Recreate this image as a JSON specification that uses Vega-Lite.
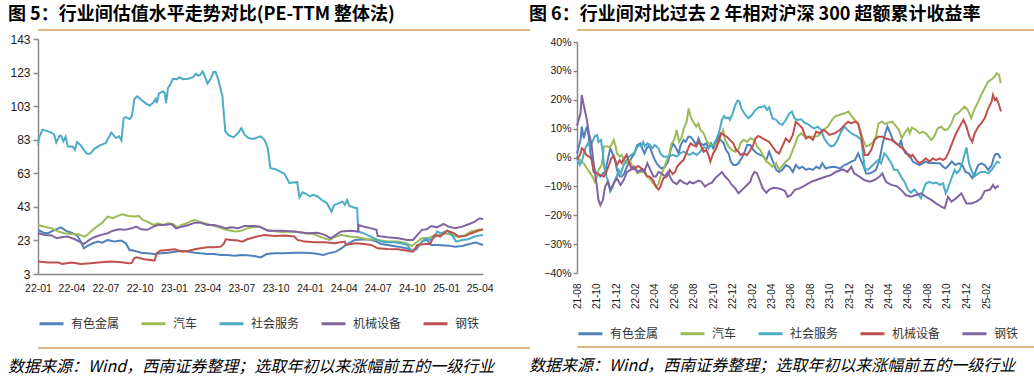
{
"$schema": "https://vega.github.io/schema/vega-lite/v6.json",
"background": "white",
"padding": {"left": 8, "top": 6, "right": 4, "bottom": 8},
"config": {
 "view": {"stroke": null},
 "axis": {"grid": false, "title": null, "domainColor": "#898989", "tickColor": "#898989", "labelColor": "#1a1a1a", "labelFont": "Liberation Sans", "domainWidth": 1.5, "tickWidth": 1.5},
 "legend": {"orient": "bottom", "direction": "horizontal", "symbolType": "stroke", "symbolSize": 576, "symbolStrokeWidth": 3, "labelFont": "Noto Sans CJK SC", "labelFontSize": 12, "labelColor": "#333333", "labelOffset": 6, "columnPadding": 15}
},
"datasets": {
 "pe_metal": [{"d":"2022-01-01","v":29.3},{"d":"2022-01-16","v":27.6},{"d":"2022-01-28","v":27.3},{"d":"2022-02-11","v":28.8},{"d":"2022-02-25","v":30.2},{"d":"2022-03-04","v":30.8},{"d":"2022-03-13","v":29.3},{"d":"2022-03-22","v":28.3},{"d":"2022-04-04","v":27.3},{"d":"2022-04-17","v":25.7},{"d":"2022-04-26","v":22.3},{"d":"2022-05-04","v":18.3},{"d":"2022-05-14","v":19.7},{"d":"2022-05-28","v":21.3},{"d":"2022-06-10","v":22.3},{"d":"2022-06-23","v":21.7},{"d":"2022-07-07","v":23.3},{"d":"2022-07-25","v":22.3},{"d":"2022-08-13","v":22.9},{"d":"2022-08-25","v":21.3},{"d":"2022-09-04","v":17.3},{"d":"2022-09-17","v":16.9},{"d":"2022-10-05","v":15.7},{"d":"2022-10-22","v":15.3},{"d":"2022-11-10","v":14.9},{"d":"2022-11-28","v":15.3},{"d":"2022-12-16","v":15.7},{"d":"2023-01-04","v":16.3},{"d":"2023-01-22","v":16.9},{"d":"2023-02-10","v":16.3},{"d":"2023-02-26","v":15.7},{"d":"2023-03-13","v":15.3},{"d":"2023-04-01","v":14.9},{"d":"2023-04-19","v":14.9},{"d":"2023-05-07","v":14.3},{"d":"2023-05-25","v":14.3},{"d":"2023-06-13","v":13.9},{"d":"2023-07-01","v":14.3},{"d":"2023-07-17","v":14.1},{"d":"2023-08-05","v":13.7},{"d":"2023-08-22","v":12.9},{"d":"2023-09-07","v":14.9},{"d":"2023-09-28","v":15.3},{"d":"2023-10-25","v":15.3},{"d":"2023-11-20","v":15.7},{"d":"2023-12-19","v":15.7},{"d":"2024-01-10","v":15.3},{"d":"2024-02-07","v":14.3},{"d":"2024-02-19","v":15.3},{"d":"2024-03-11","v":16.3},{"d":"2024-03-26","v":18.3},{"d":"2024-04-07","v":20.3},{"d":"2024-05-01","v":23.3},{"d":"2024-05-26","v":23.7},{"d":"2024-06-14","v":23.3},{"d":"2024-06-28","v":22.3},{"d":"2024-07-10","v":20.9},{"d":"2024-07-28","v":20.3},{"d":"2024-08-25","v":19.3},{"d":"2024-09-16","v":18.3},{"d":"2024-10-01","v":17.3},{"d":"2024-10-13","v":17.7},{"d":"2024-10-28","v":22.3},{"d":"2024-11-10","v":23.3},{"d":"2024-11-22","v":20.3},{"d":"2024-12-10","v":20.3},{"d":"2025-01-07","v":19.9},{"d":"2025-01-25","v":19.3},{"d":"2025-02-13","v":19.7},{"d":"2025-03-04","v":20.9},{"d":"2025-03-22","v":21.7},{"d":"2025-04-10","v":20.3}],
 "pe_auto": [{"d":"2022-01-01","v":32.2},{"d":"2022-01-19","v":31.2},{"d":"2022-02-07","v":30.2},{"d":"2022-02-25","v":28.3},{"d":"2022-03-13","v":27.3},{"d":"2022-04-01","v":26.9},{"d":"2022-04-19","v":26.7},{"d":"2022-05-06","v":25.3},{"d":"2022-05-13","v":26.3},{"d":"2022-05-28","v":29.3},{"d":"2022-06-10","v":31.6},{"d":"2022-06-23","v":33.6},{"d":"2022-07-07","v":37.2},{"d":"2022-07-21","v":36.2},{"d":"2022-08-04","v":37.6},{"d":"2022-08-15","v":38.6},{"d":"2022-09-01","v":37.6},{"d":"2022-09-17","v":37.2},{"d":"2022-09-28","v":37.6},{"d":"2022-10-10","v":35.2},{"d":"2022-10-22","v":34.2},{"d":"2022-11-07","v":32.2},{"d":"2022-11-19","v":33.2},{"d":"2022-12-03","v":32.2},{"d":"2022-12-16","v":33.2},{"d":"2022-12-29","v":32.8},{"d":"2023-01-10","v":30.8},{"d":"2023-01-22","v":32.2},{"d":"2023-02-04","v":33.2},{"d":"2023-02-17","v":34.6},{"d":"2023-02-26","v":35.2},{"d":"2023-03-10","v":34.2},{"d":"2023-03-24","v":33.2},{"d":"2023-04-10","v":32.2},{"d":"2023-04-28","v":31.2},{"d":"2023-05-16","v":29.6},{"d":"2023-06-04","v":28.8},{"d":"2023-06-16","v":28.3},{"d":"2023-07-01","v":28.8},{"d":"2023-07-17","v":30.2},{"d":"2023-08-05","v":31.2},{"d":"2023-08-19","v":31.2},{"d":"2023-09-10","v":29.0},{"d":"2023-10-16","v":28.0},{"d":"2023-11-20","v":28.3},{"d":"2023-12-19","v":27.3},{"d":"2024-01-10","v":26.9},{"d":"2024-02-01","v":24.9},{"d":"2024-02-23","v":23.3},{"d":"2024-03-07","v":24.9},{"d":"2024-03-25","v":26.3},{"d":"2024-04-16","v":25.3},{"d":"2024-05-10","v":24.9},{"d":"2024-06-04","v":23.7},{"d":"2024-07-01","v":23.3},{"d":"2024-07-28","v":22.3},{"d":"2024-08-25","v":22.3},{"d":"2024-09-16","v":21.3},{"d":"2024-10-01","v":19.7},{"d":"2024-10-10","v":21.3},{"d":"2024-10-28","v":24.3},{"d":"2024-11-13","v":24.3},{"d":"2024-11-28","v":25.7},{"d":"2024-12-10","v":26.3},{"d":"2024-12-28","v":27.3},{"d":"2025-01-16","v":26.3},{"d":"2025-02-04","v":24.9},{"d":"2025-02-22","v":26.3},{"d":"2025-03-10","v":28.3},{"d":"2025-03-28","v":29.3},{"d":"2025-04-10","v":29.6}],
 "pe_service": [{"d":"2022-01-01","v":79.9},{"d":"2022-01-04","v":84.3},{"d":"2022-01-13","v":89.0},{"d":"2022-02-03","v":87.5},{"d":"2022-02-13","v":86.3},{"d":"2022-02-19","v":81.4},{"d":"2022-02-28","v":85.3},{"d":"2022-03-04","v":85.3},{"d":"2022-03-10","v":82.0},{"d":"2022-03-16","v":84.7},{"d":"2022-03-22","v":79.0},{"d":"2022-04-04","v":79.0},{"d":"2022-04-10","v":77.0},{"d":"2022-04-16","v":81.6},{"d":"2022-04-26","v":79.6},{"d":"2022-05-06","v":76.4},{"d":"2022-05-12","v":74.8},{"d":"2022-05-21","v":74.6},{"d":"2022-06-01","v":77.6},{"d":"2022-06-16","v":79.6},{"d":"2022-07-02","v":81.0},{"d":"2022-07-14","v":86.0},{"d":"2022-07-17","v":87.3},{"d":"2022-07-29","v":84.0},{"d":"2022-08-07","v":85.0},{"d":"2022-08-13","v":82.6},{"d":"2022-08-19","v":95.9},{"d":"2022-08-25","v":96.5},{"d":"2022-09-04","v":95.3},{"d":"2022-09-10","v":96.9},{"d":"2022-09-17","v":107.4},{"d":"2022-09-25","v":108.8},{"d":"2022-10-05","v":106.8},{"d":"2022-10-19","v":104.4},{"d":"2022-10-28","v":103.4},{"d":"2022-11-07","v":105.2},{"d":"2022-11-13","v":107.4},{"d":"2022-11-16","v":104.8},{"d":"2022-11-22","v":110.6},{"d":"2022-12-03","v":111.8},{"d":"2022-12-07","v":110.8},{"d":"2022-12-11","v":104.8},{"d":"2022-12-16","v":113.8},{"d":"2022-12-22","v":115.8},{"d":"2022-12-29","v":119.3},{"d":"2023-01-09","v":119.1},{"d":"2023-01-16","v":120.3},{"d":"2023-01-25","v":119.1},{"d":"2023-02-09","v":119.3},{"d":"2023-02-21","v":120.3},{"d":"2023-03-01","v":122.3},{"d":"2023-03-07","v":121.1},{"d":"2023-03-13","v":121.7},{"d":"2023-03-19","v":123.7},{"d":"2023-03-25","v":120.7},{"d":"2023-04-01","v":116.4},{"d":"2023-04-10","v":119.3},{"d":"2023-04-17","v":123.3},{"d":"2023-04-23","v":123.3},{"d":"2023-04-29","v":119.7},{"d":"2023-05-07","v":112.8},{"d":"2023-05-11","v":109.2},{"d":"2023-05-19","v":87.9},{"d":"2023-05-29","v":85.5},{"d":"2023-06-10","v":84.4},{"d":"2023-06-22","v":86.9},{"d":"2023-07-01","v":89.9},{"d":"2023-07-10","v":86.0},{"d":"2023-07-20","v":84.0},{"d":"2023-08-01","v":83.4},{"d":"2023-08-14","v":84.4},{"d":"2023-08-22","v":85.0},{"d":"2023-09-01","v":83.0},{"d":"2023-09-10","v":78.0},{"d":"2023-09-17","v":66.0},{"d":"2023-10-01","v":65.5},{"d":"2023-10-16","v":63.7},{"d":"2023-10-25","v":62.7},{"d":"2023-11-07","v":57.1},{"d":"2023-11-16","v":57.5},{"d":"2023-11-28","v":57.7},{"d":"2023-12-04","v":48.6},{"d":"2023-12-13","v":51.7},{"d":"2023-12-22","v":50.8},{"d":"2024-01-01","v":49.2},{"d":"2024-01-10","v":50.2},{"d":"2024-01-22","v":49.2},{"d":"2024-02-01","v":47.2},{"d":"2024-02-16","v":45.2},{"d":"2024-02-28","v":40.2},{"d":"2024-03-07","v":44.2},{"d":"2024-03-16","v":44.8},{"d":"2024-03-28","v":46.2},{"d":"2024-04-04","v":44.2},{"d":"2024-04-10","v":47.2},{"d":"2024-04-16","v":43.6},{"d":"2024-04-28","v":42.6},{"d":"2024-05-07","v":42.2},{"d":"2024-05-10","v":28.3},{"d":"2024-05-25","v":27.2},{"d":"2024-06-13","v":25.3},{"d":"2024-07-01","v":23.3},{"d":"2024-07-19","v":21.9},{"d":"2024-08-13","v":21.9},{"d":"2024-09-01","v":21.3},{"d":"2024-09-19","v":20.3},{"d":"2024-09-28","v":17.3},{"d":"2024-10-07","v":17.5},{"d":"2024-10-25","v":21.3},{"d":"2024-11-07","v":24.3},{"d":"2024-11-19","v":23.3},{"d":"2024-12-04","v":25.3},{"d":"2024-12-07","v":28.3},{"d":"2024-12-19","v":27.3},{"d":"2025-01-04","v":28.8},{"d":"2025-01-16","v":26.3},{"d":"2025-01-28","v":22.3},{"d":"2025-02-13","v":23.3},{"d":"2025-03-01","v":23.7},{"d":"2025-03-19","v":25.3},{"d":"2025-04-10","v":26.3}],
 "pe_machine": [{"d":"2022-01-01","v":27.3},{"d":"2022-01-19","v":26.3},{"d":"2022-02-07","v":26.0},{"d":"2022-02-20","v":24.3},{"d":"2022-03-04","v":24.9},{"d":"2022-03-22","v":25.3},{"d":"2022-04-10","v":23.7},{"d":"2022-04-22","v":22.3},{"d":"2022-05-04","v":20.9},{"d":"2022-05-19","v":23.3},{"d":"2022-06-01","v":24.9},{"d":"2022-06-19","v":26.3},{"d":"2022-07-07","v":27.3},{"d":"2022-07-21","v":28.8},{"d":"2022-08-07","v":29.6},{"d":"2022-08-22","v":29.3},{"d":"2022-09-09","v":30.2},{"d":"2022-09-22","v":31.2},{"d":"2022-10-05","v":29.6},{"d":"2022-10-22","v":29.3},{"d":"2022-11-07","v":31.2},{"d":"2022-11-19","v":32.2},{"d":"2022-12-07","v":32.2},{"d":"2022-12-25","v":32.8},{"d":"2023-01-07","v":30.2},{"d":"2023-01-22","v":31.2},{"d":"2023-02-10","v":32.2},{"d":"2023-02-26","v":33.6},{"d":"2023-03-13","v":33.6},{"d":"2023-04-01","v":32.2},{"d":"2023-04-19","v":32.2},{"d":"2023-05-07","v":31.2},{"d":"2023-05-21","v":30.2},{"d":"2023-06-04","v":30.8},{"d":"2023-06-22","v":30.2},{"d":"2023-07-09","v":31.6},{"d":"2023-07-27","v":31.6},{"d":"2023-08-05","v":31.6},{"d":"2023-08-19","v":31.2},{"d":"2023-09-10","v":28.8},{"d":"2023-10-16","v":28.8},{"d":"2023-11-20","v":28.3},{"d":"2023-12-26","v":27.3},{"d":"2024-01-22","v":27.6},{"d":"2024-02-10","v":26.3},{"d":"2024-02-26","v":24.3},{"d":"2024-03-11","v":26.3},{"d":"2024-03-25","v":28.3},{"d":"2024-04-19","v":28.8},{"d":"2024-05-10","v":28.3},{"d":"2024-05-11","v":32.2},{"d":"2024-05-26","v":31.2},{"d":"2024-06-14","v":30.2},{"d":"2024-06-28","v":29.3},{"d":"2024-07-01","v":25.7},{"d":"2024-07-28","v":24.9},{"d":"2024-08-25","v":24.3},{"d":"2024-09-19","v":23.3},{"d":"2024-10-04","v":23.3},{"d":"2024-10-16","v":26.3},{"d":"2024-10-28","v":29.3},{"d":"2024-11-10","v":29.6},{"d":"2024-11-22","v":31.6},{"d":"2024-12-07","v":30.8},{"d":"2024-12-25","v":32.8},{"d":"2025-01-07","v":31.2},{"d":"2025-01-25","v":30.2},{"d":"2025-02-13","v":31.2},{"d":"2025-03-04","v":32.8},{"d":"2025-03-19","v":34.2},{"d":"2025-04-01","v":36.2},{"d":"2025-04-10","v":35.6}],
 "pe_steel": [{"d":"2022-01-01","v":10.4},{"d":"2022-01-28","v":9.8},{"d":"2022-02-25","v":9.8},{"d":"2022-03-07","v":9.0},{"d":"2022-04-01","v":9.8},{"d":"2022-04-26","v":9.0},{"d":"2022-05-22","v":9.4},{"d":"2022-06-19","v":10.0},{"d":"2022-07-16","v":10.4},{"d":"2022-08-13","v":10.0},{"d":"2022-09-01","v":9.4},{"d":"2022-09-10","v":9.6},{"d":"2022-09-16","v":12.3},{"d":"2022-09-22","v":12.9},{"d":"2022-10-14","v":11.8},{"d":"2022-11-10","v":11.0},{"d":"2022-11-16","v":15.3},{"d":"2022-11-25","v":16.9},{"d":"2022-12-16","v":17.3},{"d":"2023-01-04","v":17.7},{"d":"2023-01-22","v":16.3},{"d":"2023-02-10","v":16.9},{"d":"2023-02-26","v":17.7},{"d":"2023-03-13","v":18.3},{"d":"2023-04-01","v":18.9},{"d":"2023-04-19","v":18.9},{"d":"2023-05-07","v":19.3},{"d":"2023-05-16","v":21.3},{"d":"2023-05-20","v":23.7},{"d":"2023-06-04","v":23.3},{"d":"2023-06-22","v":22.9},{"d":"2023-07-04","v":22.3},{"d":"2023-07-17","v":23.7},{"d":"2023-08-05","v":24.9},{"d":"2023-08-19","v":25.7},{"d":"2023-09-01","v":26.3},{"d":"2023-09-28","v":25.7},{"d":"2023-10-25","v":25.9},{"d":"2023-11-20","v":25.3},{"d":"2023-11-29","v":23.3},{"d":"2023-12-19","v":22.3},{"d":"2024-01-13","v":21.9},{"d":"2024-02-10","v":21.9},{"d":"2024-03-07","v":21.3},{"d":"2024-04-04","v":22.3},{"d":"2024-04-07","v":20.3},{"d":"2024-05-01","v":21.3},{"d":"2024-05-26","v":20.9},{"d":"2024-06-14","v":20.3},{"d":"2024-07-01","v":18.3},{"d":"2024-07-28","v":17.9},{"d":"2024-08-25","v":17.7},{"d":"2024-09-19","v":16.9},{"d":"2024-10-04","v":16.3},{"d":"2024-10-16","v":20.3},{"d":"2024-11-05","v":20.9},{"d":"2024-11-19","v":20.9},{"d":"2024-12-01","v":26.3},{"d":"2024-12-16","v":25.3},{"d":"2025-01-04","v":28.8},{"d":"2025-01-21","v":27.3},{"d":"2025-02-04","v":25.3},{"d":"2025-02-22","v":25.7},{"d":"2025-03-10","v":27.3},{"d":"2025-03-28","v":28.8},{"d":"2025-04-10","v":29.6}],
 "ex_metal": [{"d":"2021-08-01","v":1.4},{"d":"2021-08-12","v":6.1},{"d":"2021-08-16","v":10.7},{"d":"2021-08-22","v":6.6},{"d":"2021-08-27","v":8.9},{"d":"2021-09-01","v":10.7},{"d":"2021-09-07","v":7.2},{"d":"2021-09-12","v":1.4},{"d":"2021-09-21","v":-3.2},{"d":"2021-09-28","v":-5},{"d":"2021-10-04","v":-5.5},{"d":"2021-10-13","v":-6.6},{"d":"2021-10-21","v":-5.5},{"d":"2021-10-28","v":-5},{"d":"2021-11-05","v":-0.9},{"d":"2021-11-13","v":3.2},{"d":"2021-11-22","v":0.9},{"d":"2021-11-29","v":-1.4},{"d":"2021-12-04","v":-4.3},{"d":"2021-12-13","v":-6.6},{"d":"2021-12-19","v":-6.6},{"d":"2021-12-27","v":-5.5},{"d":"2022-01-04","v":-3.2},{"d":"2022-01-13","v":-1.4},{"d":"2022-01-21","v":0.3},{"d":"2022-01-28","v":1.4},{"d":"2022-02-05","v":4.3},{"d":"2022-02-15","v":4.9},{"d":"2022-02-21","v":3.2},{"d":"2022-02-28","v":1.4},{"d":"2022-03-07","v":3.2},{"d":"2022-03-15","v":4.3},{"d":"2022-03-22","v":2},{"d":"2022-03-30","v":-0.3},{"d":"2022-04-07","v":-2},{"d":"2022-04-16","v":-3.2},{"d":"2022-04-22","v":-3.8},{"d":"2022-05-03","v":-3.2},{"d":"2022-05-13","v":-1.4},{"d":"2022-05-21","v":2.6},{"d":"2022-05-28","v":4.9},{"d":"2022-06-07","v":3.2},{"d":"2022-06-15","v":1.4},{"d":"2022-06-21","v":4.3},{"d":"2022-06-30","v":6.1},{"d":"2022-07-07","v":5.4},{"d":"2022-07-15","v":7.2},{"d":"2022-07-22","v":7.2},{"d":"2022-07-30","v":6.1},{"d":"2022-08-09","v":4.3},{"d":"2022-08-16","v":6.6},{"d":"2022-08-22","v":4.9},{"d":"2022-09-01","v":4.3},{"d":"2022-09-09","v":4.9},{"d":"2022-09-16","v":3.2},{"d":"2022-09-24","v":4.9},{"d":"2022-10-01","v":3.2},{"d":"2022-10-10","v":4.9},{"d":"2022-10-18","v":7.2},{"d":"2022-10-24","v":6.1},{"d":"2022-11-03","v":4.9},{"d":"2022-11-10","v":2.6},{"d":"2022-11-18","v":1.4},{"d":"2022-11-25","v":-1.4},{"d":"2022-12-03","v":-2.6},{"d":"2022-12-12","v":-2.6},{"d":"2022-12-19","v":-2},{"d":"2022-12-25","v":-0.9},{"d":"2023-01-04","v":0.9},{"d":"2023-01-15","v":4.3},{"d":"2023-01-25","v":4.3},{"d":"2023-02-04","v":2.6},{"d":"2023-02-15","v":1.4},{"d":"2023-02-25","v":0.9},{"d":"2023-03-05","v":0.5},{"d":"2023-03-16","v":-0.9},{"d":"2023-03-25","v":2},{"d":"2023-04-04","v":-0.9},{"d":"2023-04-16","v":-4.3},{"d":"2023-04-25","v":-5},{"d":"2023-05-05","v":-4.3},{"d":"2023-05-16","v":-2.6},{"d":"2023-05-27","v":-3.2},{"d":"2023-06-07","v":-5},{"d":"2023-06-16","v":-2.6},{"d":"2023-06-27","v":-3.8},{"d":"2023-07-07","v":-3.2},{"d":"2023-07-18","v":-4.3},{"d":"2023-07-28","v":-3.8},{"d":"2023-08-09","v":-4.3},{"d":"2023-08-19","v":-3.2},{"d":"2023-08-30","v":-3.8},{"d":"2023-09-07","v":-2},{"d":"2023-09-18","v":-3.8},{"d":"2023-09-29","v":-3.4},{"d":"2023-10-16","v":-3.2},{"d":"2023-11-01","v":-3.8},{"d":"2023-11-16","v":-2.6},{"d":"2023-11-27","v":-2},{"d":"2023-12-07","v":-1.4},{"d":"2023-12-18","v":-0.9},{"d":"2023-12-28","v":1.4},{"d":"2024-01-01","v":0.3},{"d":"2024-01-13","v":-2.6},{"d":"2024-01-22","v":-5.5},{"d":"2024-02-02","v":-5.5},{"d":"2024-02-13","v":-5},{"d":"2024-02-22","v":-4.3},{"d":"2024-03-04","v":-0.9},{"d":"2024-03-13","v":4.3},{"d":"2024-03-22","v":8.4},{"d":"2024-03-29","v":10.7},{"d":"2024-04-07","v":8.4},{"d":"2024-04-15","v":6.1},{"d":"2024-04-25","v":4.9},{"d":"2024-05-06","v":4.3},{"d":"2024-05-10","v":6.1},{"d":"2024-05-16","v":3.2},{"d":"2024-05-25","v":1.4},{"d":"2024-06-06","v":0.9},{"d":"2024-06-16","v":-1.4},{"d":"2024-06-27","v":-2},{"d":"2024-07-07","v":-2.6},{"d":"2024-07-16","v":-2},{"d":"2024-07-27","v":-1.4},{"d":"2024-08-07","v":-2},{"d":"2024-08-18","v":-1.8},{"d":"2024-08-28","v":-2},{"d":"2024-09-09","v":-2},{"d":"2024-09-19","v":-3.2},{"d":"2024-09-27","v":-3.8},{"d":"2024-10-07","v":-2.6},{"d":"2024-10-16","v":-1.4},{"d":"2024-10-27","v":-2.6},{"d":"2024-11-07","v":-2},{"d":"2024-11-18","v":-2.6},{"d":"2024-11-28","v":-5},{"d":"2024-12-09","v":-5.5},{"d":"2024-12-19","v":-7.2},{"d":"2024-12-27","v":-5.5},{"d":"2025-01-07","v":-2.6},{"d":"2025-01-16","v":-2},{"d":"2025-01-27","v":-2.6},{"d":"2025-02-07","v":-4.3},{"d":"2025-02-18","v":-2.6},{"d":"2025-02-25","v":0.2},{"d":"2025-03-02","v":1.2},{"d":"2025-03-10","v":1.2},{"d":"2025-03-18","v":-0.3}],
 "ex_auto": [{"d":"2021-08-01","v":0},{"d":"2021-08-12","v":-1},{"d":"2021-08-22","v":-2},{"d":"2021-09-01","v":-3.8},{"d":"2021-09-12","v":-5.5},{"d":"2021-09-21","v":-7.2},{"d":"2021-09-25","v":-8.4},{"d":"2021-10-03","v":-6.6},{"d":"2021-10-07","v":-4.3},{"d":"2021-10-18","v":-2.4},{"d":"2021-10-24","v":3.8},{"d":"2021-11-04","v":3.8},{"d":"2021-11-12","v":3.5},{"d":"2021-11-19","v":4.9},{"d":"2021-11-24","v":6.1},{"d":"2021-11-30","v":3.8},{"d":"2021-12-04","v":1.4},{"d":"2021-12-13","v":0.3},{"d":"2021-12-19","v":0.9},{"d":"2021-12-27","v":-1.4},{"d":"2022-01-04","v":-2},{"d":"2022-01-13","v":-0.9},{"d":"2022-01-21","v":-3.2},{"d":"2022-02-01","v":-3.2},{"d":"2022-02-07","v":-5.5},{"d":"2022-02-16","v":-5},{"d":"2022-02-27","v":-5},{"d":"2022-03-07","v":-6.6},{"d":"2022-03-16","v":-7.2},{"d":"2022-03-27","v":-9},{"d":"2022-04-05","v":-10.1},{"d":"2022-04-13","v":-9.2},{"d":"2022-04-19","v":-6.6},{"d":"2022-04-28","v":-4.3},{"d":"2022-05-09","v":-0.9},{"d":"2022-05-16","v":0.9},{"d":"2022-05-24","v":4.9},{"d":"2022-06-01","v":6.1},{"d":"2022-06-09","v":9.5},{"d":"2022-06-16","v":5.4},{"d":"2022-06-25","v":7.2},{"d":"2022-07-01","v":10.1},{"d":"2022-07-10","v":12.4},{"d":"2022-07-16","v":17},{"d":"2022-07-22","v":14.2},{"d":"2022-07-30","v":12.4},{"d":"2022-08-09","v":10.7},{"d":"2022-08-16","v":11.8},{"d":"2022-08-22","v":9.5},{"d":"2022-09-01","v":8.4},{"d":"2022-09-09","v":6.1},{"d":"2022-09-16","v":4.9},{"d":"2022-09-27","v":4.3},{"d":"2022-10-07","v":4.3},{"d":"2022-10-18","v":5.4},{"d":"2022-10-24","v":7.4},{"d":"2022-11-01","v":9.5},{"d":"2022-11-07","v":6.1},{"d":"2022-11-18","v":3.8},{"d":"2022-11-28","v":2.6},{"d":"2022-12-09","v":2},{"d":"2022-12-19","v":2.9},{"d":"2022-12-25","v":4.9},{"d":"2023-01-04","v":6.1},{"d":"2023-01-15","v":5.4},{"d":"2023-01-25","v":6.6},{"d":"2023-02-07","v":6.1},{"d":"2023-02-15","v":3.8},{"d":"2023-02-25","v":2.6},{"d":"2023-03-05","v":0.9},{"d":"2023-03-16","v":-1.4},{"d":"2023-03-25","v":-2},{"d":"2023-04-04","v":-3.2},{"d":"2023-04-16","v":-2},{"d":"2023-04-25","v":-4.3},{"d":"2023-05-07","v":-2.6},{"d":"2023-05-16","v":-1.4},{"d":"2023-05-27","v":-0.4},{"d":"2023-06-01","v":0.9},{"d":"2023-06-13","v":4.3},{"d":"2023-06-22","v":7.2},{"d":"2023-07-03","v":8.4},{"d":"2023-07-13","v":7.4},{"d":"2023-07-24","v":7.2},{"d":"2023-08-09","v":7.2},{"d":"2023-08-24","v":7.4},{"d":"2023-09-10","v":9.5},{"d":"2023-09-25","v":10.7},{"d":"2023-10-04","v":12.4},{"d":"2023-10-16","v":14.2},{"d":"2023-11-01","v":14.8},{"d":"2023-11-16","v":15.3},{"d":"2023-11-28","v":15.9},{"d":"2023-12-07","v":14.4},{"d":"2023-12-18","v":13},{"d":"2023-12-28","v":11.8},{"d":"2024-01-13","v":6.1},{"d":"2024-01-22","v":3.8},{"d":"2024-02-02","v":4.3},{"d":"2024-02-13","v":5.4},{"d":"2024-02-22","v":7.2},{"d":"2024-03-01","v":11.8},{"d":"2024-03-12","v":12.4},{"d":"2024-03-22","v":11.6},{"d":"2024-04-01","v":12.1},{"d":"2024-04-13","v":12.4},{"d":"2024-04-22","v":11.2},{"d":"2024-05-04","v":9.5},{"d":"2024-05-13","v":6.6},{"d":"2024-05-21","v":8.4},{"d":"2024-06-01","v":10.1},{"d":"2024-06-07","v":8.4},{"d":"2024-06-13","v":10.4},{"d":"2024-06-27","v":9.5},{"d":"2024-07-07","v":8.4},{"d":"2024-07-16","v":8.9},{"d":"2024-07-27","v":8.4},{"d":"2024-08-13","v":6.1},{"d":"2024-08-22","v":7.2},{"d":"2024-09-02","v":10.1},{"d":"2024-09-13","v":10.7},{"d":"2024-09-24","v":9.5},{"d":"2024-10-04","v":9.8},{"d":"2024-10-15","v":11.8},{"d":"2024-10-25","v":14.8},{"d":"2024-11-04","v":15.3},{"d":"2024-11-15","v":16.5},{"d":"2024-11-25","v":17.6},{"d":"2024-12-05","v":16.5},{"d":"2024-12-16","v":13.6},{"d":"2024-12-25","v":16.5},{"d":"2025-01-07","v":19.4},{"d":"2025-01-16","v":21.7},{"d":"2025-01-27","v":24},{"d":"2025-02-07","v":26.3},{"d":"2025-02-18","v":27.1},{"d":"2025-02-28","v":28.1},{"d":"2025-03-05","v":29.2},{"d":"2025-03-13","v":28.6},{"d":"2025-03-18","v":25.7}],
 "ex_service": [{"d":"2021-08-01","v":0.5},{"d":"2021-08-04","v":-0.9},{"d":"2021-08-10","v":-2.6},{"d":"2021-08-16","v":-1.4},{"d":"2021-08-27","v":3.2},{"d":"2021-09-04","v":4.9},{"d":"2021-09-10","v":3.8},{"d":"2021-09-18","v":5.4},{"d":"2021-09-25","v":7.2},{"d":"2021-10-03","v":7.8},{"d":"2021-10-07","v":5.4},{"d":"2021-10-15","v":6.1},{"d":"2021-10-21","v":1.4},{"d":"2021-10-25","v":-3.2},{"d":"2021-11-01","v":-6.6},{"d":"2021-11-09","v":-9},{"d":"2021-11-13","v":-11.8},{"d":"2021-11-19","v":-10.7},{"d":"2021-11-27","v":-7.8},{"d":"2021-12-03","v":-6.6},{"d":"2021-12-09","v":-4.3},{"d":"2021-12-16","v":-5.5},{"d":"2021-12-25","v":-2.6},{"d":"2022-01-03","v":-0.9},{"d":"2022-01-10","v":0.3},{"d":"2022-01-25","v":1.4},{"d":"2022-02-04","v":3.2},{"d":"2022-02-10","v":4.3},{"d":"2022-02-18","v":3.8},{"d":"2022-02-24","v":5.4},{"d":"2022-03-01","v":3.8},{"d":"2022-03-09","v":4.9},{"d":"2022-03-16","v":4.3},{"d":"2022-03-25","v":3.2},{"d":"2022-04-01","v":4.3},{"d":"2022-04-13","v":3.2},{"d":"2022-04-19","v":1.4},{"d":"2022-04-28","v":0.3},{"d":"2022-05-09","v":0.3},{"d":"2022-05-19","v":0.5},{"d":"2022-05-28","v":0.9},{"d":"2022-06-09","v":0.3},{"d":"2022-06-19","v":1.4},{"d":"2022-06-30","v":2},{"d":"2022-07-10","v":1.4},{"d":"2022-07-19","v":0.9},{"d":"2022-07-30","v":1.7},{"d":"2022-08-10","v":0.9},{"d":"2022-08-21","v":2},{"d":"2022-09-01","v":3.5},{"d":"2022-09-12","v":3.2},{"d":"2022-09-22","v":3.8},{"d":"2022-10-01","v":4.3},{"d":"2022-10-12","v":6.6},{"d":"2022-10-21","v":9.5},{"d":"2022-10-28","v":13},{"d":"2022-11-04","v":14.4},{"d":"2022-11-10","v":13.6},{"d":"2022-11-18","v":13.9},{"d":"2022-11-22","v":13},{"d":"2022-12-01","v":15.3},{"d":"2022-12-09","v":18.2},{"d":"2022-12-16","v":19.7},{"d":"2022-12-22","v":19.4},{"d":"2022-12-28","v":17},{"d":"2023-01-09","v":14.8},{"d":"2023-01-19","v":13.6},{"d":"2023-01-30","v":14.8},{"d":"2023-02-10","v":16.5},{"d":"2023-02-21","v":17.4},{"d":"2023-03-01","v":17.4},{"d":"2023-03-10","v":17.9},{"d":"2023-03-18","v":16.5},{"d":"2023-03-25","v":17.4},{"d":"2023-04-04","v":13.6},{"d":"2023-04-16","v":13},{"d":"2023-04-25","v":11.8},{"d":"2023-05-05","v":11.3},{"d":"2023-05-16","v":13},{"d":"2023-05-27","v":15.3},{"d":"2023-06-04","v":15.9},{"d":"2023-06-12","v":13.6},{"d":"2023-06-22","v":13},{"d":"2023-07-03","v":13.2},{"d":"2023-07-13","v":12.1},{"d":"2023-07-24","v":11.6},{"d":"2023-08-03","v":10.7},{"d":"2023-08-13","v":10.1},{"d":"2023-08-24","v":10.7},{"d":"2023-09-04","v":9.5},{"d":"2023-09-13","v":6.6},{"d":"2023-09-24","v":4.9},{"d":"2023-10-04","v":3.8},{"d":"2023-10-15","v":4.3},{"d":"2023-10-25","v":6.1},{"d":"2023-11-05","v":9},{"d":"2023-11-16","v":10.7},{"d":"2023-11-25","v":9.5},{"d":"2023-12-07","v":8.4},{"d":"2023-12-16","v":7.8},{"d":"2023-12-27","v":7.2},{"d":"2024-01-07","v":6.1},{"d":"2024-01-18","v":-3.8},{"d":"2024-01-28","v":-4.3},{"d":"2024-02-07","v":-3.2},{"d":"2024-02-18","v":-2},{"d":"2024-02-28","v":-0.9},{"d":"2024-03-09","v":-2},{"d":"2024-03-19","v":1.4},{"d":"2024-03-28","v":0.3},{"d":"2024-04-10","v":-2},{"d":"2024-04-19","v":-4.3},{"d":"2024-04-29","v":-4.3},{"d":"2024-05-10","v":-6.6},{"d":"2024-05-21","v":-8.4},{"d":"2024-06-01","v":-11.1},{"d":"2024-06-10","v":-12.2},{"d":"2024-06-21","v":-11.1},{"d":"2024-07-01","v":-12.4},{"d":"2024-07-12","v":-14.1},{"d":"2024-07-19","v":-11.1},{"d":"2024-07-27","v":-9},{"d":"2024-08-07","v":-8.4},{"d":"2024-08-18","v":-9},{"d":"2024-08-28","v":-8.7},{"d":"2024-09-09","v":-9.5},{"d":"2024-09-19","v":-9},{"d":"2024-09-27","v":-12.4},{"d":"2024-10-04","v":-10.7},{"d":"2024-10-15","v":-7.2},{"d":"2024-10-25","v":-4.3},{"d":"2024-11-01","v":-5.5},{"d":"2024-11-10","v":-4.3},{"d":"2024-11-19","v":-1.4},{"d":"2024-12-01","v":3.5},{"d":"2024-12-09","v":-2},{"d":"2024-12-16","v":-4.3},{"d":"2024-12-25","v":-6.6},{"d":"2025-01-07","v":-5.5},{"d":"2025-01-16","v":-5},{"d":"2025-01-27","v":-5},{"d":"2025-02-07","v":-5.5},{"d":"2025-02-18","v":-4.3},{"d":"2025-02-28","v":-2.6},{"d":"2025-03-07","v":-1.4},{"d":"2025-03-15","v":-2}],
 "ex_machine": [{"d":"2021-08-01","v":0},{"d":"2021-08-04","v":-0.3},{"d":"2021-08-12","v":1.4},{"d":"2021-08-16","v":3.2},{"d":"2021-08-22","v":2.6},{"d":"2021-08-30","v":0.9},{"d":"2021-09-15","v":-0.3},{"d":"2021-09-22","v":-5},{"d":"2021-10-03","v":-5.5},{"d":"2021-10-13","v":-6.1},{"d":"2021-10-24","v":-6.6},{"d":"2021-11-01","v":-5},{"d":"2021-11-09","v":-2.6},{"d":"2021-11-16","v":-0.3},{"d":"2021-11-24","v":0.5},{"d":"2021-11-30","v":-1.4},{"d":"2021-12-04","v":-2.6},{"d":"2021-12-13","v":-0.9},{"d":"2021-12-19","v":-2},{"d":"2021-12-27","v":-0.3},{"d":"2022-01-03","v":0.9},{"d":"2022-01-10","v":-1.4},{"d":"2022-01-18","v":-3.8},{"d":"2022-01-25","v":-4.1},{"d":"2022-02-04","v":-3.2},{"d":"2022-02-10","v":-3},{"d":"2022-02-18","v":-3.8},{"d":"2022-02-27","v":-4.3},{"d":"2022-03-07","v":-6.4},{"d":"2022-03-16","v":-6.6},{"d":"2022-03-27","v":-7.8},{"d":"2022-04-05","v":-10.1},{"d":"2022-04-13","v":-11.1},{"d":"2022-04-19","v":-10.1},{"d":"2022-04-28","v":-7.2},{"d":"2022-05-09","v":-6.6},{"d":"2022-05-18","v":-4.3},{"d":"2022-05-27","v":-5.7},{"d":"2022-06-04","v":-5},{"d":"2022-06-10","v":-3.2},{"d":"2022-06-19","v":-2},{"d":"2022-06-30","v":-0.9},{"d":"2022-07-07","v":0.9},{"d":"2022-07-15","v":3.2},{"d":"2022-07-22","v":4.9},{"d":"2022-07-30","v":4.3},{"d":"2022-08-09","v":3.8},{"d":"2022-08-16","v":5.4},{"d":"2022-08-22","v":4.3},{"d":"2022-09-01","v":2},{"d":"2022-09-09","v":2.6},{"d":"2022-09-16","v":0.9},{"d":"2022-09-22","v":-1.4},{"d":"2022-10-01","v":1.4},{"d":"2022-10-10","v":3.2},{"d":"2022-10-18","v":5.4},{"d":"2022-10-24","v":8.4},{"d":"2022-11-03","v":7.8},{"d":"2022-11-13","v":7.2},{"d":"2022-11-22","v":6.1},{"d":"2022-12-03","v":4.9},{"d":"2022-12-12","v":2.6},{"d":"2022-12-19","v":2},{"d":"2022-12-25","v":0.9},{"d":"2023-01-04","v":1.4},{"d":"2023-01-15","v":0.9},{"d":"2023-01-22","v":2},{"d":"2023-02-03","v":4.3},{"d":"2023-02-10","v":6.6},{"d":"2023-02-18","v":7.4},{"d":"2023-02-25","v":7.2},{"d":"2023-03-04","v":6.6},{"d":"2023-03-13","v":6.1},{"d":"2023-03-25","v":5.4},{"d":"2023-04-04","v":3.8},{"d":"2023-04-16","v":2},{"d":"2023-04-25","v":1.4},{"d":"2023-05-05","v":3.8},{"d":"2023-05-16","v":6.6},{"d":"2023-05-27","v":5.4},{"d":"2023-06-07","v":7.8},{"d":"2023-06-16","v":12.4},{"d":"2023-06-27","v":11.3},{"d":"2023-07-07","v":10.1},{"d":"2023-07-18","v":6.6},{"d":"2023-07-28","v":7.2},{"d":"2023-08-09","v":6.1},{"d":"2023-08-19","v":9},{"d":"2023-08-30","v":8.4},{"d":"2023-09-10","v":9.5},{"d":"2023-09-19","v":9},{"d":"2023-09-29","v":7.8},{"d":"2023-10-16","v":8.4},{"d":"2023-11-01","v":9.5},{"d":"2023-11-16","v":11.3},{"d":"2023-11-27","v":12.4},{"d":"2023-12-07","v":11.8},{"d":"2023-12-18","v":12.4},{"d":"2023-12-28","v":11.8},{"d":"2024-01-07","v":7.2},{"d":"2024-01-18","v":0.9},{"d":"2024-01-28","v":0.9},{"d":"2024-02-07","v":2.6},{"d":"2024-02-18","v":6.1},{"d":"2024-02-28","v":7.2},{"d":"2024-03-13","v":7.2},{"d":"2024-03-24","v":6.6},{"d":"2024-04-10","v":6.1},{"d":"2024-04-25","v":4.9},{"d":"2024-05-06","v":3.8},{"d":"2024-05-16","v":3.2},{"d":"2024-05-25","v":2},{"d":"2024-06-06","v":0.2},{"d":"2024-06-16","v":0.9},{"d":"2024-06-27","v":-0.9},{"d":"2024-07-07","v":-2},{"d":"2024-07-16","v":-1.4},{"d":"2024-07-27","v":-0.3},{"d":"2024-08-07","v":-1.4},{"d":"2024-08-18","v":-0.3},{"d":"2024-08-28","v":-0.9},{"d":"2024-09-09","v":-0.3},{"d":"2024-09-19","v":-0.9},{"d":"2024-09-27","v":-0.3},{"d":"2024-10-07","v":2},{"d":"2024-10-15","v":4.3},{"d":"2024-10-25","v":7.2},{"d":"2024-11-04","v":9.5},{"d":"2024-11-15","v":11.8},{"d":"2024-11-22","v":13},{"d":"2024-12-01","v":10.7},{"d":"2024-12-10","v":7.2},{"d":"2024-12-19","v":5.4},{"d":"2024-12-27","v":8.4},{"d":"2025-01-07","v":10.7},{"d":"2025-01-16","v":11.8},{"d":"2025-01-27","v":13.6},{"d":"2025-02-07","v":17},{"d":"2025-02-18","v":19.4},{"d":"2025-02-22","v":21.7},{"d":"2025-02-28","v":19.9},{"d":"2025-03-05","v":20.5},{"d":"2025-03-13","v":18.2},{"d":"2025-03-19","v":15.9}],
 "ex_steel": [{"d":"2021-08-01","v":11},{"d":"2021-08-12","v":15.3},{"d":"2021-08-16","v":21.7},{"d":"2021-08-22","v":18.2},{"d":"2021-09-01","v":13},{"d":"2021-09-07","v":8.4},{"d":"2021-09-15","v":4.9},{"d":"2021-09-22","v":-2},{"d":"2021-10-01","v":-9},{"d":"2021-10-07","v":-14.7},{"d":"2021-10-13","v":-16.5},{"d":"2021-10-21","v":-14.7},{"d":"2021-10-28","v":-10.1},{"d":"2021-11-05","v":-8.4},{"d":"2021-11-13","v":-11.2},{"d":"2021-11-24","v":-9},{"d":"2021-12-04","v":-7.2},{"d":"2021-12-15","v":-9.5},{"d":"2021-12-25","v":-7.8},{"d":"2022-01-04","v":-5},{"d":"2022-01-16","v":-4.3},{"d":"2022-01-25","v":-3.2},{"d":"2022-02-05","v":-5},{"d":"2022-02-18","v":-4.3},{"d":"2022-02-27","v":-5},{"d":"2022-03-09","v":-2},{"d":"2022-03-16","v":-3.7},{"d":"2022-03-28","v":-6.6},{"d":"2022-04-05","v":-6.6},{"d":"2022-04-13","v":-5},{"d":"2022-04-22","v":-5.5},{"d":"2022-05-03","v":-6.6},{"d":"2022-05-13","v":-5},{"d":"2022-05-21","v":-7.2},{"d":"2022-05-28","v":-8.4},{"d":"2022-06-09","v":-9.2},{"d":"2022-06-19","v":-7.8},{"d":"2022-06-30","v":-8.7},{"d":"2022-07-12","v":-9.2},{"d":"2022-07-19","v":-8.4},{"d":"2022-07-30","v":-9},{"d":"2022-08-16","v":-8},{"d":"2022-08-25","v":-8.4},{"d":"2022-09-05","v":-10.1},{"d":"2022-09-16","v":-9.2},{"d":"2022-09-27","v":-8.7},{"d":"2022-10-07","v":-7.2},{"d":"2022-10-18","v":-6.1},{"d":"2022-10-28","v":-5},{"d":"2022-11-07","v":-6.6},{"d":"2022-11-18","v":-7.8},{"d":"2022-11-28","v":-9.5},{"d":"2022-12-09","v":-10.7},{"d":"2022-12-19","v":-12.4},{"d":"2022-12-25","v":-11.8},{"d":"2023-01-04","v":-10.7},{"d":"2023-01-15","v":-9.5},{"d":"2023-01-25","v":-8.4},{"d":"2023-01-30","v":-6.6},{"d":"2023-02-07","v":-5},{"d":"2023-02-15","v":-5.5},{"d":"2023-02-25","v":-8.4},{"d":"2023-03-05","v":-10.7},{"d":"2023-03-16","v":-12.2},{"d":"2023-03-25","v":-11.1},{"d":"2023-04-07","v":-10.5},{"d":"2023-04-25","v":-10.7},{"d":"2023-05-13","v":-11.5},{"d":"2023-05-22","v":-13.6},{"d":"2023-06-01","v":-13},{"d":"2023-06-13","v":-11.2},{"d":"2023-06-28","v":-10.7},{"d":"2023-07-18","v":-9.5},{"d":"2023-08-04","v":-8.4},{"d":"2023-08-19","v":-7.8},{"d":"2023-09-04","v":-7.2},{"d":"2023-09-19","v":-6.6},{"d":"2023-10-04","v":-6.1},{"d":"2023-10-19","v":-5},{"d":"2023-11-10","v":-4.1},{"d":"2023-11-25","v":-5},{"d":"2023-12-07","v":-3.2},{"d":"2023-12-16","v":-5.5},{"d":"2024-01-01","v":-6.6},{"d":"2024-01-16","v":-7.8},{"d":"2024-02-02","v":-8.4},{"d":"2024-02-18","v":-7.8},{"d":"2024-03-04","v":-6.6},{"d":"2024-03-13","v":-5.5},{"d":"2024-03-24","v":-8.4},{"d":"2024-04-10","v":-9.5},{"d":"2024-04-28","v":-10},{"d":"2024-05-16","v":-11.8},{"d":"2024-05-25","v":-13},{"d":"2024-06-10","v":-13.6},{"d":"2024-06-27","v":-13},{"d":"2024-07-12","v":-12.4},{"d":"2024-07-27","v":-13.6},{"d":"2024-08-13","v":-14.7},{"d":"2024-08-28","v":-15.9},{"d":"2024-09-13","v":-17},{"d":"2024-09-24","v":-17.6},{"d":"2024-10-04","v":-13.6},{"d":"2024-10-15","v":-15.3},{"d":"2024-10-30","v":-14.1},{"d":"2024-11-15","v":-12.4},{"d":"2024-12-01","v":-15.9},{"d":"2024-12-16","v":-15.9},{"d":"2025-01-01","v":-15.3},{"d":"2025-01-16","v":-14.1},{"d":"2025-01-27","v":-11.6},{"d":"2025-02-13","v":-11.1},{"d":"2025-02-22","v":-9.5},{"d":"2025-03-01","v":-10.7},{"d":"2025-03-07","v":-10},{"d":"2025-03-13","v":-10.1}]
},
"hconcat": [
 {
  "resolve": {"scale": {"color": "independent"}, "legend": {"color": "independent"}},
  "title": {"text": "数据来源：Wind，西南证券整理；选取年初以来涨幅前五的一级行业", "orient": "bottom", "anchor": "start", "font": "Noto Sans CJK SC", "fontSize": 16, "fontStyle": "italic", "fontWeight": "normal", "color": "#000000", "offset": 10},
  "spacing": 17,
  "vconcat": [
   {
    "resolve": {"scale": {"color": "independent"}, "legend": {"color": "independent"}},
    "title": {"text": "图 5：行业间估值水平走势对比(PE-TTM 整体法)", "anchor": "start", "font": "Noto Sans CJK SC", "fontSize": 18, "fontWeight": "bold", "color": "#000000", "offset": 5},
    "spacing": 2,
    "vconcat": [
     {"width": 492, "height": 1, "data": {"values": [{"v": 0}]}, "mark": {"type": "rule", "color": "#D4A15C", "strokeWidth": 1.5}, "encoding": {"y": {"field": "v", "type": "quantitative", "axis": null, "scale": {"domain": [0, 1]}}}},
     {
      "width": 445, "height": 235,
      "encoding": {
       "x": {"field": "d", "type": "temporal", "scale": {"domain": [{"year": 2022, "month": 1, "date": 1}, {"year": 2025, "month": 4, "date": 10}]}, "axis": {"tickCount": {"interval": "month", "step": 3}, "format": "%y-%m", "labelAngle": 0, "ticks": false, "labelFontSize": 10.5, "labelPadding": 9, "labelOverlap": false, "labelFlush": false}},
       "y": {"field": "v", "type": "quantitative", "scale": {"domain": [3, 143], "nice": false, "zero": false}, "axis": {"values": [3, 23, 43, 63, 83, 103, 123, 143], "tickSize": 5, "labelFontSize": 12, "labelPadding": 3, "minExtent": 30}}
      },
      "layer": [
       {"data": {"name": "pe_metal"}, "mark": {"type": "line", "strokeWidth": 2}, "encoding": {"color": {"datum": "有色金属", "type": "nominal", "scale": {"domain": ["有色金属", "汽车", "社会服务", "机械设备", "钢铁"], "range": ["#4F81BD", "#9BBB59", "#4BACC6", "#8064A2", "#C0504D"]}, "legend": {"title": null, "offset": 16}}}},
       {"data": {"name": "pe_auto"}, "mark": {"type": "line", "strokeWidth": 2}, "encoding": {"color": {"datum": "汽车", "type": "nominal"}}},
       {"data": {"name": "pe_service"}, "mark": {"type": "line", "strokeWidth": 2}, "encoding": {"color": {"datum": "社会服务", "type": "nominal"}}},
       {"data": {"name": "pe_machine"}, "mark": {"type": "line", "strokeWidth": 2}, "encoding": {"color": {"datum": "机械设备", "type": "nominal"}}},
       {"data": {"name": "pe_steel"}, "mark": {"type": "line", "strokeWidth": 2}, "encoding": {"color": {"datum": "钢铁", "type": "nominal"}}}
      ]
     }
    ]
   },
   {"width": 492, "height": 1, "data": {"values": [{"v": 0}]}, "mark": {"type": "rule", "color": "#D4A15C", "strokeWidth": 1.5}, "encoding": {"y": {"field": "v", "type": "quantitative", "axis": null, "scale": {"domain": [0, 1]}}}}
  ]
 },
 {
  "resolve": {"scale": {"color": "independent"}, "legend": {"color": "independent"}},
  "title": {"text": "数据来源：Wind，西南证券整理；选取年初以来涨幅前五的一级行业", "orient": "bottom", "anchor": "start", "font": "Noto Sans CJK SC", "fontSize": 16, "fontStyle": "italic", "fontWeight": "normal", "color": "#000000", "offset": 10},
  "spacing": 6,
  "vconcat": [
   {
    "resolve": {"scale": {"color": "independent"}, "legend": {"color": "independent"}},
    "title": {"text": "图 6：行业间对比过去 2 年相对沪深 300 超额累计收益率", "anchor": "start", "font": "Noto Sans CJK SC", "fontSize": 18, "fontWeight": "bold", "color": "#000000", "offset": 5},
    "spacing": 6,
    "vconcat": [
     {"width": 500, "height": 1, "data": {"values": [{"v": 0}]}, "mark": {"type": "rule", "color": "#D4A15C", "strokeWidth": 1.5}, "encoding": {"y": {"field": "v", "type": "quantitative", "axis": null, "scale": {"domain": [0, 1]}}}},
     {
      "width": 424, "height": 231,
      "encoding": {
       "x": {"field": "d", "type": "temporal", "scale": {"domain": [{"year": 2021, "month": 8, "date": 1}, {"year": 2025, "month": 3, "date": 19}]}, "axis": {"values": [{"year": 2021, "month": 8, "date": 1}, {"year": 2021, "month": 10, "date": 1}, {"year": 2021, "month": 12, "date": 1}, {"year": 2022, "month": 2, "date": 1}, {"year": 2022, "month": 4, "date": 1}, {"year": 2022, "month": 6, "date": 1}, {"year": 2022, "month": 8, "date": 1}, {"year": 2022, "month": 10, "date": 1}, {"year": 2022, "month": 12, "date": 1}, {"year": 2023, "month": 2, "date": 1}, {"year": 2023, "month": 4, "date": 1}, {"year": 2023, "month": 6, "date": 1}, {"year": 2023, "month": 8, "date": 1}, {"year": 2023, "month": 10, "date": 1}, {"year": 2023, "month": 12, "date": 1}, {"year": 2024, "month": 2, "date": 1}, {"year": 2024, "month": 4, "date": 1}, {"year": 2024, "month": 6, "date": 1}, {"year": 2024, "month": 8, "date": 1}, {"year": 2024, "month": 10, "date": 1}, {"year": 2024, "month": 12, "date": 1}, {"year": 2025, "month": 2, "date": 1}], "format": "%y-%m", "labelAngle": 270, "domain": false, "ticks": false, "labelFontSize": 10, "labelPadding": 10, "labelOverlap": false, "labelFlush": false}},
       "y": {"field": "v", "type": "quantitative", "scale": {"domain": [-40, 40], "nice": false}, "axis": {"values": [-40, -30, -20, -10, 0, 10, 20, 30, 40], "labelExpr": "format(datum.value / 100, '.0%')", "tickSize": 4, "labelFontSize": 10.5, "labelPadding": 2, "minExtent": 48}}
      },
      "layer": [
       {"data": {"values": [{"v": 0}]}, "mark": {"type": "rule", "color": "#8C8C8C", "strokeWidth": 1.5}, "encoding": {"x": {"datum": {"year": 2021, "month": 8, "date": 1}, "type": "temporal"}, "x2": {"datum": {"year": 2025, "month": 3, "date": 19}}}},
       {"data": {"name": "ex_metal"}, "mark": {"type": "line", "strokeWidth": 2}, "encoding": {"color": {"datum": "有色金属", "type": "nominal", "scale": {"domain": ["有色金属", "汽车", "社会服务", "机械设备", "钢铁"], "range": ["#4F81BD", "#9BBB59", "#4BACC6", "#C0504D", "#8064A2"]}, "legend": {"title": null, "offset": 11}}}},
       {"data": {"name": "ex_auto"}, "mark": {"type": "line", "strokeWidth": 2}, "encoding": {"color": {"datum": "汽车", "type": "nominal"}}},
       {"data": {"name": "ex_service"}, "mark": {"type": "line", "strokeWidth": 2}, "encoding": {"color": {"datum": "社会服务", "type": "nominal"}}},
       {"data": {"name": "ex_machine"}, "mark": {"type": "line", "strokeWidth": 2}, "encoding": {"color": {"datum": "机械设备", "type": "nominal"}}},
       {"data": {"name": "ex_steel"}, "mark": {"type": "line", "strokeWidth": 2}, "encoding": {"color": {"datum": "钢铁", "type": "nominal"}}}
      ]
     }
    ]
   },
   {"width": 500, "height": 1, "data": {"values": [{"v": 0}]}, "mark": {"type": "rule", "color": "#D4A15C", "strokeWidth": 1.5}, "encoding": {"y": {"field": "v", "type": "quantitative", "axis": null, "scale": {"domain": [0, 1]}}}}
  ]
 }
],
"spacing": -2,
"resolve": {"scale": {"color": "independent"}, "legend": {"color": "independent"}}
}
